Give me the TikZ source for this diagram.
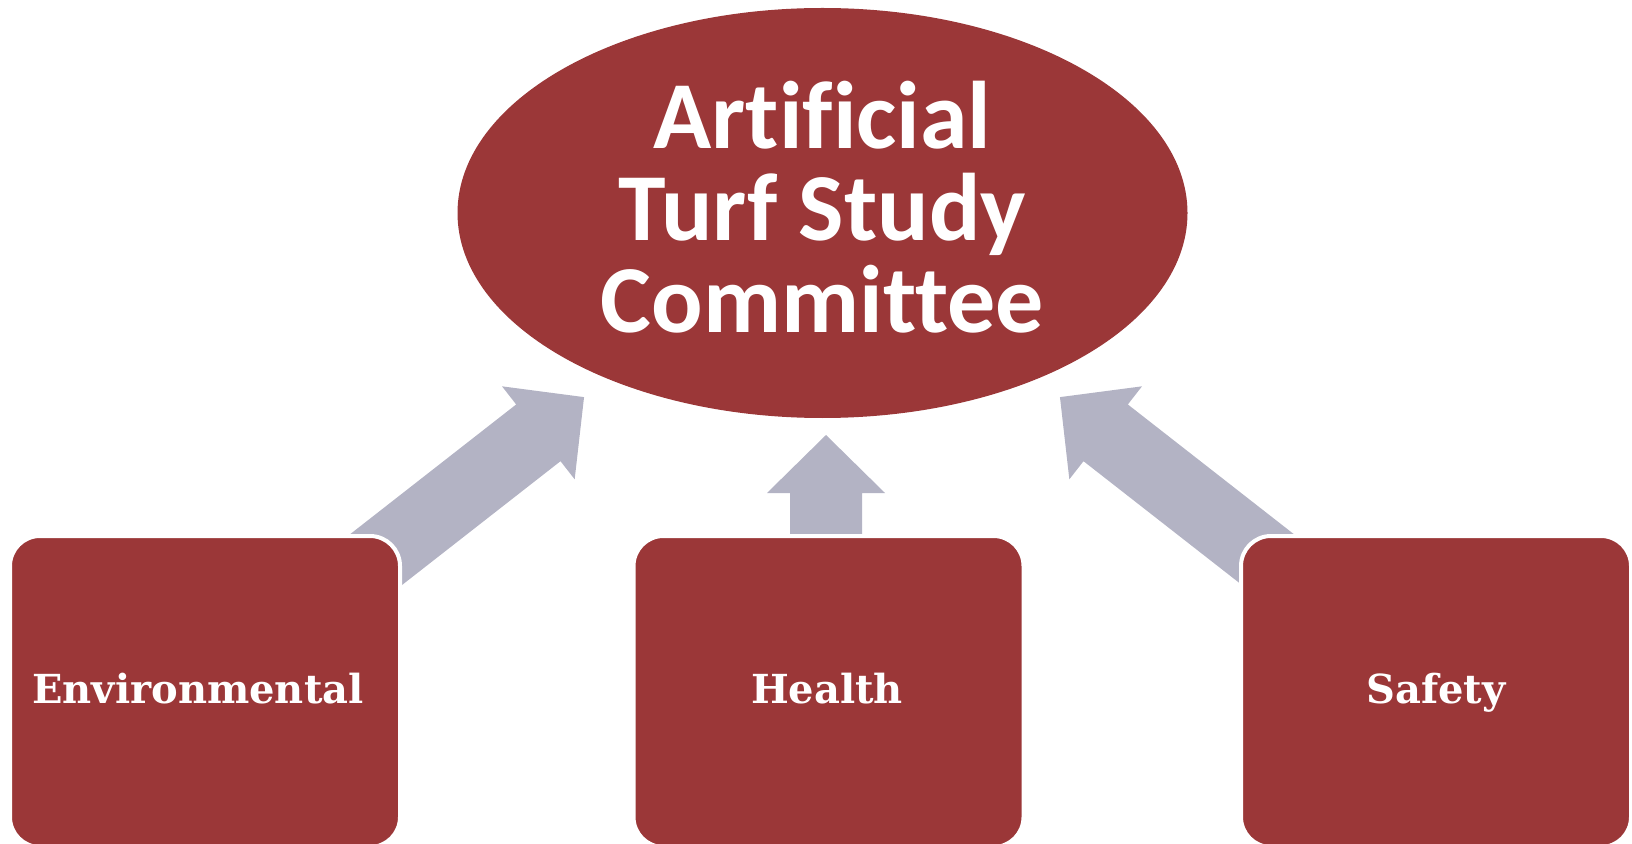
\documentclass[tikz,border=0pt]{standalone}
\usepackage{fontspec}
\usetikzlibrary{shapes.geometric}
\newfontfamily\titlefont[Ligatures=NoCommon]{Carlito}
\newfontfamily\labelfont{DejaVu Serif}
\definecolor{boxred}{RGB}{155,55,56}
\definecolor{arrowgray}{RGB}{179,179,196}
\newcommand\myblockarrow[3]{%
  \fill[arrowgray, shift={(#1)}, rotate=#2]
    (0,-36) -- ({#3-58},-36) -- ({#3-58},-59) -- (#3,0)
    -- ({#3-58},59) -- ({#3-58},36) -- (0,36) -- cycle;}
\begin{document}
\begin{tikzpicture}[x=0.5pt,y=-0.5pt,
  topic/.style={ellipse, fill=boxred, inner sep=0pt, minimum width=365pt,
    minimum height=205pt, text=white, align=center, text depth=6pt,
    font=\titlefont\bfseries\fontsize{48}{46}\selectfont},
  area/.style={rectangle, rounded corners=15pt, fill=boxred, draw=white,
    line width=2pt, minimum width=195pt, minimum height=155.5pt, inner sep=0pt},
  arealabel/.style={text=white, anchor=base, inner sep=0pt,
    font=\labelfont\bfseries\fontsize{20}{24}\selectfont}]
\useasboundingbox (0,0) rectangle (1632,844);
\clip (0,0) rectangle (1632,844);
% arrow anchors
\coordinate (envtail) at (363.4,569.5);
\coordinate (healthtail) at (826,545);
\coordinate (safetytail) at (1280.6,569.5);
\myblockarrow{envtail}{38}{280}
\myblockarrow{healthtail}{90}{110}
\myblockarrow{safetytail}{142}{280}
% boxes
\node[area] (env) at (205,691.5) {};
\node[area] (health) at (828.5,691.5) {};
\node[area] (safety) at (1436,691.5) {};
\node[arealabel] (envlabel) at (198,703) {Environmental};
\node[arealabel] (healthlabel) at (827,703) {Health};
\node[arealabel] (safetylabel) at (1436,703) {Safety};
% committee
\node[topic] (committee) at (822.5,213) {Artificial\\Turf Study\\Committee};
\end{tikzpicture}
\end{document}
